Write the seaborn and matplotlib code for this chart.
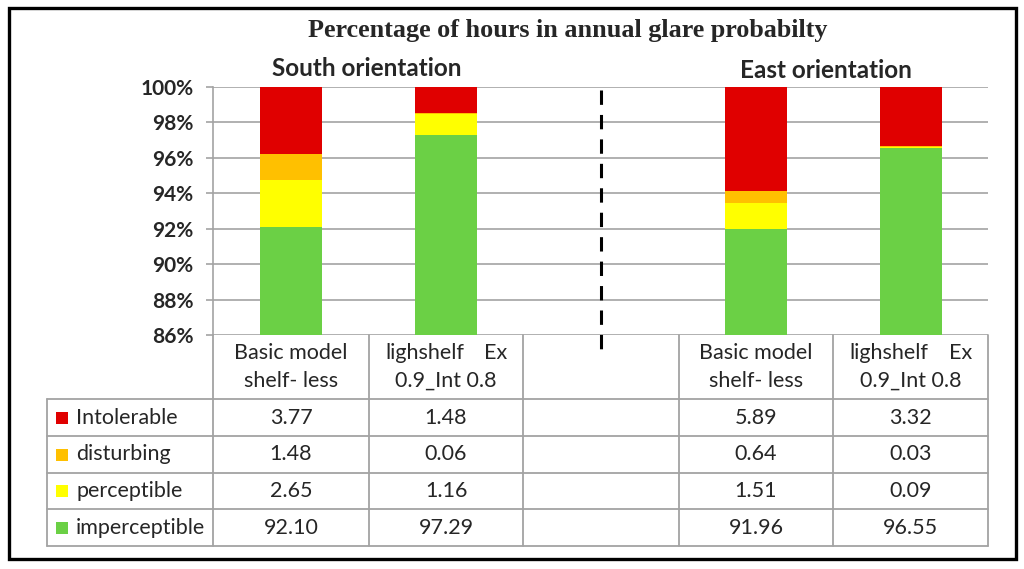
import matplotlib
matplotlib.use("Agg")
import matplotlib.pyplot as plt
from matplotlib.lines import Line2D
from matplotlib.patches import Rectangle
import seaborn as sns
import pandas as pd

# ---------------- data ----------------
keys = ["S_basic", "S_shelf", "gap", "E_basic", "E_shelf"]
header_line1 = ["Basic model", "lighshelf    Ex", "", "Basic model", "lighshelf    Ex"]
header_line2 = ["shelf- less", "0.9_Int 0.8", "", "shelf- less", "0.9_Int 0.8"]
levels = ["Intolerable", "disturbing", "perceptible", "imperceptible"]
intolerable = [3.77, 1.48, None, 5.89, 3.32]
disturbing = [1.48, 0.06, None, 0.64, 0.03]
perceptible = [2.65, 1.16, None, 1.51, 0.09]
imperceptible = [92.10, 97.29, None, 91.96, 96.55]
colors = {"Intolerable": "#E00000", "disturbing": "#FFC000",
          "perceptible": "#FFFF00", "imperceptible": "#6BD045"}
yticks = [86, 88, 90, 92, 94, 96, 98, 100]
title = "Percentage of hours in annual glare probabilty"
group_titles = ["South orientation", "East orientation"]

series = {"Intolerable": intolerable, "disturbing": disturbing,
          "perceptible": perceptible, "imperceptible": imperceptible}

sns.set_style("white")
plt.rcParams["font.family"] = ["Lato", "DejaVu Sans"]

W, H = 1024, 569
fig = plt.figure(figsize=(W / 100, H / 100), dpi=100)
fig.patch.set_facecolor("white")

def fx(x):
    return x / W

def fy(y):
    return 1 - y / H

GRID = "#A3A3A3"
ax = fig.add_axes([fx(213), fy(335), fx(988) - fx(213), fy(87) - fy(335)])

# cumulative tops: draw from top-most level down so lower levels overlay
rows = []
for i, k in enumerate(keys):
    if imperceptible[i] is None:
        continue
    cum = 0
    tops = {}
    for l in levels[::-1]:
        cum += series[l][i]
        tops[l] = cum
    for l in levels:
        rows.append({"key": k, "level": l, "top": tops[l]})
df = pd.DataFrame(rows)

for l in levels:
    sub = df[df["level"] == l]
    sns.barplot(data=sub, x="key", y="top", order=keys, color=colors[l],
                width=0.4, errorbar=None, saturation=1, ax=ax, zorder=3,
                edgecolor="none", linewidth=0)

ax.set_xlim(-0.5, 4.5)
ax.set_ylim(86, 100)
ax.set_yticks(yticks)
ax.set_yticklabels([f"{v}%" for v in yticks], fontsize=15, fontweight="bold")
ax.set_xticks([])
ax.set_xlabel("")
ax.set_ylabel("")
ax.grid(axis="y", color=GRID, linewidth=1.2, zorder=0)
ax.set_axisbelow(True)
for s in ["top", "right", "bottom"]:
    ax.spines[s].set_visible(False)
ax.spines["left"].set_color(GRID)
ax.spines["left"].set_linewidth(1.2)
ax.tick_params(axis="y", which="major", length=5, width=1.2, color=GRID,
               pad=9, left=True, direction="out")

# dashed separator
ax.plot([2, 2], [99.85, 85.2], color="black", lw=2.2,
        linestyle=(0, (4.7, 3.3)), clip_on=False, zorder=5,
        solid_capstyle="butt", dash_capstyle="butt")

# ---------------- table ----------------
col_x = [213, 369, 523, 679, 833, 988]
row_y = [335, 399, 436, 473, 509, 546]
leg_left = 47
lw_t = 1.3

def hline(x0, x1, y):
    fig.add_artist(Line2D([fx(x0), fx(x1)], [fy(y), fy(y)], color=GRID, lw=lw_t))

def vline(x, y0, y1):
    fig.add_artist(Line2D([fx(x), fx(x)], [fy(y0), fy(y1)], color=GRID, lw=lw_t))

for y in row_y[1:]:
    hline(leg_left, col_x[-1], y)
for x in col_x:
    vline(x, row_y[0], row_y[-1])
vline(leg_left, row_y[1], row_y[-1])

FS = 15.5
for i in range(5):
    cx = (col_x[i] + col_x[i + 1]) / 2
    if header_line1[i].startswith("lighshelf"):
        parts = header_line1[i].split()
        fig.text(fx(col_x[i] + 16), fy(353), parts[0], ha="left", va="center", fontsize=FS)
        fig.text(fx(col_x[i + 1] - 16), fy(353), parts[1], ha="right", va="center", fontsize=FS)
    else:
        fig.text(fx(cx), fy(353), header_line1[i], ha="center", va="center", fontsize=FS)
    fig.text(fx(cx), fy(381), header_line2[i], ha="center", va="center", fontsize=FS)

for r, l in enumerate(levels):
    cy = (row_y[r + 1] + row_y[r + 2]) / 2
    fig.add_artist(Rectangle((fx(56), fy(cy + 6)), fx(12), fy(0) - fy(12),
                             transform=fig.transFigure, facecolor=colors[l],
                             edgecolor="none"))
    fig.text(fx(76), fy(cy), l, ha="left", va="center", fontsize=FS)
    for i in range(5):
        v = series[l][i]
        if v is None:
            continue
        cx = (col_x[i] + col_x[i + 1]) / 2
        fig.text(fx(cx), fy(cy), f"{v:.2f}", ha="center", va="center", fontsize=FS)

# ---------------- titles ----------------
fig.text(fx(568), fy(30), title, ha="center", va="center", fontsize=18.8,
         fontweight="bold", family=["Liberation Serif", "DejaVu Serif"])
fig.text(fx(367), fy(68), group_titles[0], ha="center", va="center",
         fontsize=17.5, fontweight="bold")
fig.text(fx(826), fy(70), group_titles[1], ha="center", va="center",
         fontsize=17.5, fontweight="bold")

# outer frame
fig.add_artist(Rectangle((fx(8.5), fy(558.5)), fx(1007), fy(0) - fy(551),
                         transform=fig.transFigure, facecolor="none",
                         edgecolor="black", lw=2.4))

fig.savefig("out.png", dpi=100, facecolor="white")
